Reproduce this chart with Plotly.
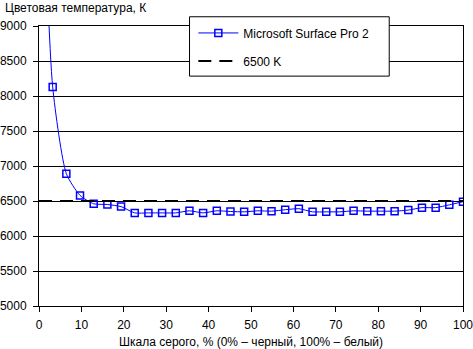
import plotly.graph_objects as go

n_steps = 31
gray_pct = [i * 100 / n_steps for i in range(n_steps + 1)]
surface_temp = [13000, 8130, 6890, 6580, 6460, 6450, 6420, 6330, 6330, 6330, 6330,
                6360, 6330, 6360, 6350, 6345, 6360, 6355, 6375, 6390, 6345,
                6345, 6345, 6360, 6355, 6355, 6355, 6370, 6405, 6405, 6445, 6490]
ref_x = [0, 100]
ref_temp = [6500, 6500]

font = "Arial, 'Liberation Sans', sans-serif"

fig = go.Figure()
fig.add_trace(go.Scatter(
    x=gray_pct, y=surface_temp, name="Microsoft Surface Pro 2",
    mode="lines+markers", line=dict(color="#0000FF", width=1, shape="spline", smoothing=0.6),
    marker=dict(symbol="square-open", size=7, color="#0000FF", line=dict(width=1.5)),
    legendgroup="a",
))
fig.add_trace(go.Scatter(
    x=ref_x, y=ref_temp, name="6500 K", mode="lines",
    line=dict(color="black", width=2, dash="13px,8px"),
    legendgroup="b",
))

fig.update_layout(
    width=473, height=349,
    margin=dict(l=39, r=10, t=26, b=43),
    paper_bgcolor="white", plot_bgcolor="white",
    font=dict(family=font, size=12, color="black"),
    showlegend=True,
    legend=dict(x=0.364, y=1.027, xanchor="left", yanchor="top",
                bgcolor="rgba(0,0,0,0)", borderwidth=0,
                itemwidth=40, tracegroupgap=9, traceorder="grouped",
                font=dict(family=font, size=12)),
    shapes=[dict(type="rect", xref="paper", yref="paper",
                 x0=0.355, x1=0.826, y0=0.821, y1=1.033,
                 fillcolor="white", line=dict(color="black", width=1), layer="above")],
    annotations=[dict(text="Цветовая температура, К", xref="paper", yref="paper",
                      x=-0.085, y=1.064, xanchor="left", yanchor="middle",
                      showarrow=False, font=dict(size=12))],
)
fig.update_xaxes(range=[0, 100], dtick=10, showgrid=False, showline=True,
                 linecolor="black", linewidth=1, mirror=True, ticks="outside",
                 ticklen=5, tickcolor="black", zeroline=False, automargin=False,
                 ticklabeloverflow="allow", ticklabelstandoff=3,
                 title=dict(text="Шкала серого, % (0% – черный, 100% – белый)",
                            standoff=8, font=dict(size=12)))
fig.update_yaxes(range=[5000, 9000], dtick=500, showgrid=True, gridcolor="black",
                 gridwidth=1, showline=True, linecolor="black", linewidth=1,
                 mirror=True, ticks="outside", ticklen=5, tickcolor="black",
                 zeroline=False, automargin=False, ticklabeloverflow="allow",
                 ticklabelstandoff=4)

fig.write_html("out.html")
